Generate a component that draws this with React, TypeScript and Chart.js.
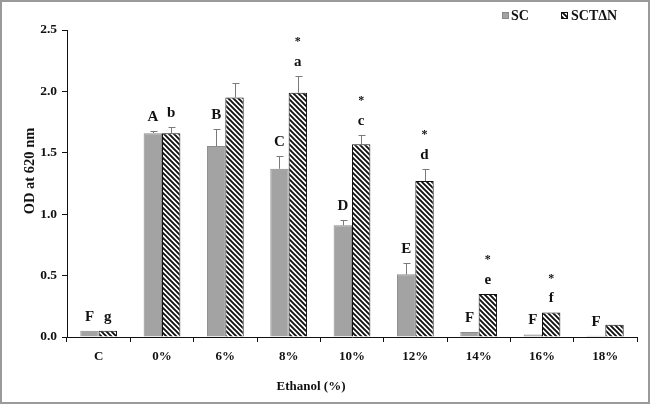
import React, { useEffect, useRef } from "react";
import { Chart, registerables } from "chart.js";

Chart.register(...registerables);

const categories = ["C", "0%", "6%", "8%", "10%", "12%", "14%", "16%", "18%"];
const scValues = [0.05, 1.66, 1.555, 1.37, 0.91, 0.51, 0.04, 0.02, 0.01];
const scErrors = [0.0, 0.02, 0.135, 0.10, 0.04, 0.09, 0.0, 0.0, 0.0];
const sctValues = [0.05, 1.66, 1.95, 1.99, 1.57, 1.27, 0.35, 0.2, 0.1];
const sctErrors = [0.0, 0.05, 0.12, 0.135, 0.075, 0.10, 0.0, 0.0, 0.0];
const scLetters = ["F", "A", "B", "C", "D", "E", "F", "F", "F"];
const sctLetters = ["g", "b", "", "a", "c", "d", "e", "f", ""];
const sctStars = [false, false, false, true, true, true, true, true, false];
const yTicks = [0, 0.5, 1.0, 1.5, 2.0, 2.5];
const seriesNames = ["SC", "SCT\u0394N"];

const SERIF = "'Liberation Serif', 'Times New Roman', serif";
const GRAY = "#a3a3a3";

function makeHatch(): CanvasPattern | string {
  const s = 5;
  const c = document.createElement("canvas");
  c.width = s;
  c.height = s;
  const g = c.getContext("2d");
  if (!g) return "#fff";
  g.fillStyle = "#ffffff";
  g.fillRect(0, 0, s, s);
  g.strokeStyle = "#111111";
  g.lineWidth = 1.9;
  g.beginPath();
  for (let k = -1; k <= 1; k++) {
    g.moveTo(k * s - 1, -1);
    g.lineTo(k * s + s + 1, s + 1);
  }
  g.stroke();
  const p = g.createPattern(c, "repeat");
  return p || "#fff";
}

export default function App() {
  const ref = useRef<HTMLCanvasElement | null>(null);

  useEffect(() => {
    const canvas = ref.current;
    if (!canvas) return;
    const hatch = makeHatch();

    const errorPlugin = {
      id: "errs",
      afterDatasetsDraw(chart: any) {
        const ctx = chart.ctx;
        const y = chart.scales.y;
        const errs = [scErrors, sctErrors];
        const vals = [scValues, sctValues];
        const letters = [scLetters, sctLetters];
        ctx.save();
        for (let d = 0; d < 2; d++) {
          const meta = chart.getDatasetMeta(d);
          meta.data.forEach((bar: any, i: number) => {
            const top = vals[d][i] + errs[d][i];
            const yTop = y.getPixelForValue(top);
            if (errs[d][i] > 0) {
              ctx.strokeStyle = "#7a7a7a";
              ctx.lineWidth = 1;
              ctx.beginPath();
              const x = Math.round(bar.x) + 0.5;
              ctx.moveTo(x, bar.y);
              ctx.lineTo(x, Math.round(yTop) + 0.5);
              ctx.moveTo(x - 3, Math.round(yTop) + 0.5);
              ctx.lineTo(x + 4, Math.round(yTop) + 0.5);
              ctx.stroke();
            }
            ctx.fillStyle = "#111";
            ctx.textAlign = "center";
            ctx.textBaseline = "middle";
            ctx.font = `bold 15px ${SERIF}`;
            const ly = yTop - 14;
            if (letters[d][i]) ctx.fillText(letters[d][i], bar.x, ly);
            if (d === 1 && sctStars[i]) {
              ctx.font = `bold 12px ${SERIF}`;
              ctx.fillText("*", bar.x, ly - 20);
            }
          });
        }
        ctx.restore();
      },
      afterDraw(chart: any) {
        const ctx = chart.ctx;
        ctx.save();
        // y title
        ctx.fillStyle = "#111";
        ctx.font = `bold 14.5px ${SERIF}`;
        ctx.textAlign = "center";
        ctx.textBaseline = "middle";
        ctx.translate(30, 171);
        ctx.rotate(-Math.PI / 2);
        ctx.fillText("OD at 620 nm", 0, 0);
        ctx.restore();
        ctx.save();
        ctx.fillStyle = "#111";
        ctx.font = `bold 13px ${SERIF}`;
        ctx.textAlign = "center";
        ctx.textBaseline = "middle";
        ctx.fillText("Ethanol (%)", 311, 387);
        // legend
        ctx.textAlign = "left";
        ctx.font = `bold 14px ${SERIF}`;
        ctx.fillStyle = GRAY;
        ctx.fillRect(502, 12, 7, 7);
        ctx.strokeStyle = "#888";
        ctx.lineWidth = 1;
        ctx.strokeRect(502.5, 12.5, 6, 6);
        ctx.fillStyle = "#111";
        ctx.fillText(seriesNames[0], 511, 16);
        ctx.fillStyle = hatch as any;
        ctx.fillRect(561, 12, 7, 7);
        ctx.strokeStyle = "#111";
        ctx.strokeRect(561.5, 12.5, 6, 6);
        ctx.fillStyle = "#111";
        ctx.fillText(seriesNames[1], 571, 16);
        // frame
        ctx.strokeStyle = "#9a9a9a";
        ctx.lineWidth = 2;
        ctx.strokeRect(1, 1, 648, 402);
        ctx.restore();
      },
    };

    const chart = new Chart(canvas, {
      type: "bar",
      data: {
        labels: categories,
        datasets: [
          {
            label: seriesNames[0],
            data: scValues,
            backgroundColor: GRAY,
            borderColor: "#8c8c8c",
            borderWidth: 1,
            categoryPercentage: 0.58,
            barPercentage: 1.0,
          },
          {
            label: seriesNames[1],
            data: sctValues,
            backgroundColor: hatch as any,
            borderColor: "#111111",
            borderWidth: 1,
            categoryPercentage: 0.58,
            barPercentage: 1.0,
          },
        ],
      },
      options: {
        responsive: false,
        animation: false,
        layout: { padding: { top: 30, right: 15, left: 0, bottom: 0 } },
        plugins: {
          legend: { display: false },
          tooltip: { enabled: false },
        },
        scales: {
          x: {
            grid: {
              display: true,
              drawOnChartArea: false,
              drawTicks: true,
              tickLength: 5,
              color: "#111",
              offset: true,
            },
            border: { display: true, color: "#111", width: 1 },
            ticks: {
              color: "#111",
              padding: 7,
              font: { family: SERIF, size: 13, weight: "bold" },
            },
            afterFit: (s: any) => {
              s.height = 68;
            },
          },
          y: {
            min: 0,
            max: 2.5,
            afterBuildTicks: (s: any) => {
              s.ticks = yTicks.map((v) => ({ value: v }));
            },
            grid: {
              display: true,
              drawOnChartArea: false,
              drawTicks: true,
              tickLength: 5,
              color: "#111",
            },
            border: { display: true, color: "#111", width: 1 },
            ticks: {
              color: "#111",
              padding: 5,
              font: { family: SERIF, size: 13.5, weight: "bold" },
              callback: (v: any) => Number(v).toFixed(1),
            },
            afterFit: (s: any) => {
              s.width = 67;
            },
          },
        },
      },
      plugins: [errorPlugin],
    });
    return () => chart.destroy();
  }, []);

  return (
    <div style={{ position: "absolute", left: 0, top: 0, width: 652, height: 405, background: "#fff" }}>
      <canvas ref={ref} width={652} height={405} style={{ display: "block" }} />
    </div>
  );
}
